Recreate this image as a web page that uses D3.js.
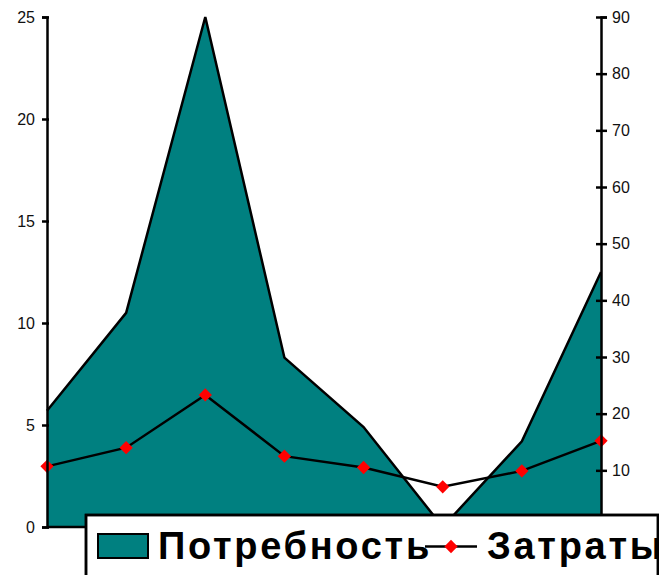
<!DOCTYPE html>
<html>
<head>
<meta charset="utf-8">
<script src="https://cdn.jsdelivr.net/npm/d3@7"></script>
<style>
body { margin: 0; background: #fff; }
svg { display: block; }
</style>
</head>
<body>
<svg width="659" height="575"></svg>
<script>
var categories = ["1", "2", "3", "4", "5", "6", "7", "8"];
var potrebnost = [5.7, 10.5, 25, 8.3, 4.9, 0, 4.2, 12.5];
var zatraty = [10.7, 14.0, 23.3, 12.5, 10.5, 7.1, 9.9, 15.2];
var leftTicks = [0, 5, 10, 15, 20, 25];
var rightTicks = [10, 20, 30, 40, 50, 60, 70, 80, 90];
var seriesNames = ["Потребность", "Затраты"];

var teal = "#008080";
var font = "'Liberation Sans', Arial, Helvetica, sans-serif";

var svg = d3.select("svg");

var x = d3.scalePoint()
    .domain(categories)
    .range([47, 601]);

var yL = d3.scaleLinear()
    .domain([0, 25])
    .range([527, 17]);

var yR = d3.scaleLinear()
    .domain([0, 90])
    .range([527, 17]);

var area = d3.area()
    .x(function(d, i) { return x(categories[i]); })
    .y0(yL(0))
    .y1(function(d) { return yL(d); });

var topLine = d3.line()
    .x(function(d, i) { return x(categories[i]); })
    .y(function(d) { return yL(d); });

svg.append("path")
    .datum(potrebnost)
    .attr("d", area)
    .attr("fill", teal);

svg.append("path")
    .datum(potrebnost)
    .attr("d", topLine)
    .attr("fill", "none")
    .attr("stroke", "black")
    .attr("stroke-width", 2.5)
    .attr("stroke-linejoin", "miter");

var costLine = d3.line()
    .x(function(d, i) { return x(categories[i]); })
    .y(function(d) { return yR(d); });

svg.append("path")
    .datum(zatraty)
    .attr("d", costLine)
    .attr("fill", "none")
    .attr("stroke", "black")
    .attr("stroke-width", 2.5);

var diamond = d3.symbol().type(d3.symbolSquare).size(88);

svg.selectAll(".marker")
    .data(zatraty)
    .enter()
    .append("path")
    .attr("class", "marker")
    .attr("d", diamond)
    .attr("fill", "#ff0000")
    .attr("transform", function(d, i) {
        return "translate(" + x(categories[i]) + "," + yR(d) + ") rotate(45)";
    });

// category axis: ticks sit between categories
var step = x.step();
var xAxisGroup = svg.append("g")
    .attr("transform", "translate(0," + yL(0) + ")");
xAxisGroup.append("line")
    .attr("x1", x(categories[0]))
    .attr("x2", x(categories[categories.length - 1]))
    .attr("stroke", "black")
    .attr("stroke-width", 2.5);
xAxisGroup.selectAll(".xtick")
    .data(categories.slice(1))
    .enter()
    .append("line")
    .attr("class", "xtick")
    .attr("x1", function(d) { return x(d) - step / 2; })
    .attr("x2", function(d) { return x(d) - step / 2; })
    .attr("y1", 0)
    .attr("y2", 8)
    .attr("stroke", "black")
    .attr("stroke-width", 2);

var leftAxisGroup = svg.append("g")
    .attr("transform", "translate(" + x(categories[0]) + ",0)")
    .call(d3.axisLeft(yL).tickValues(leftTicks).tickSizeOuter(0).tickSize(5).tickPadding(7));

var rightAxisGroup = svg.append("g")
    .attr("transform", "translate(" + x(categories[categories.length - 1]) + ",0)")
    .call(d3.axisRight(yR).tickValues(rightTicks).tickSizeOuter(0).tickSize(6).tickPadding(5));

rightAxisGroup.selectAll(".tick line").attr("x1", -5);
leftAxisGroup.selectAll(".tick line").attr("x1", 2);

[leftAxisGroup, rightAxisGroup].forEach(function(g) {
    g.select(".domain").attr("stroke", "black").attr("stroke-width", 2.5);
    g.selectAll(".tick line").attr("stroke", "black").attr("stroke-width", 2.5);
    g.selectAll("text")
        .attr("fill", "#111")
        .attr("font-family", font)
        .attr("font-size", "16px");
});

// legend, clipped at the right edge
var legendX = 86, legendY = 515, legendW = 572, legendH = 80;

svg.append("clipPath")
    .attr("id", "legendClip")
    .append("rect")
    .attr("x", legendX)
    .attr("y", legendY)
    .attr("width", legendW)
    .attr("height", legendH);

var legend = svg.append("g");

legend.append("rect")
    .attr("x", legendX)
    .attr("y", legendY)
    .attr("width", legendW)
    .attr("height", legendH)
    .attr("fill", "white")
    .attr("stroke", "black")
    .attr("stroke-width", 2.5);

var legendInner = legend.append("g").attr("clip-path", "url(#legendClip)");

legendInner.append("rect")
    .attr("x", 98)
    .attr("y", 534)
    .attr("width", 50)
    .attr("height", 24)
    .attr("fill", teal)
    .attr("stroke", "black")
    .attr("stroke-width", 2);

legendInner.append("text")
    .attr("x", 158)
    .attr("y", 559)
    .attr("font-family", font)
    .attr("font-weight", "bold")
    .attr("font-size", "38px")
    .attr("letter-spacing", "2.7px")
    .attr("fill", "black")
    .text(seriesNames[0]);

legendInner.append("line")
    .attr("x1", 425)
    .attr("x2", 477)
    .attr("y1", 546.5)
    .attr("y2", 546.5)
    .attr("stroke", "black")
    .attr("stroke-width", 2.5);

legendInner.append("path")
    .attr("d", diamond)
    .attr("fill", "#ff0000")
    .attr("transform", "translate(451,546.5) rotate(45)");

legendInner.append("text")
    .attr("x", 487)
    .attr("y", 559)
    .attr("font-family", font)
    .attr("font-weight", "bold")
    .attr("font-size", "38px")
    .attr("letter-spacing", "2.7px")
    .attr("fill", "black")
    .text(seriesNames[1]);

legend.append("rect")
    .attr("x", legendX)
    .attr("y", legendY)
    .attr("width", legendW)
    .attr("height", legendH)
    .attr("fill", "none")
    .attr("stroke", "black")
    .attr("stroke-width", 2.5);
</script>
</body>
</html>
